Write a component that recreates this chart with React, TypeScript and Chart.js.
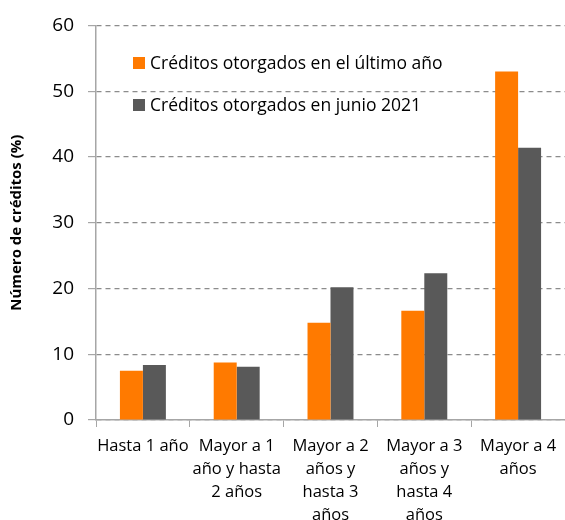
import React, { useEffect, useRef } from "react";
import { Chart, registerables } from "chart.js";

Chart.register(...registerables);

const categories: string[][] = [
  ["Hasta 1 año"],
  ["Mayor a 1", "año y hasta", "2 años"],
  ["Mayor a 2", "años y", "hasta 3", "años"],
  ["Mayor a 3", "años y", "hasta 4", "años"],
  ["Mayor a 4", "años"],
];
const seriesNames = ["Créditos otorgados en el último año", "Créditos otorgados en junio 2021"];
const ultimoAnio = [7.5, 8.75, 14.8, 16.6, 53.0];
const junio2021 = [8.35, 8.1, 20.2, 22.3, 41.4];
const yTicks = [0, 10, 20, 30, 40, 50, 60];

const FONT = "'Open Sans', sans-serif";

const legendPlugin = {
  id: "insideLegend",
  afterDraw(chart: any) {
    const ctx = chart.ctx;
    ctx.save();
    ctx.font = `17.5px ${FONT}`;
    ctx.textBaseline = "middle";
    ctx.textAlign = "left";
    chart.data.datasets.forEach((ds: any, i: number) => {
      const cy = 63 + i * 42;
      ctx.fillStyle = ds.backgroundColor;
      ctx.fillRect(133, cy - 6, 12, 12);
      ctx.fillStyle = "#000";
      ctx.fillText(ds.label, 150, cy + 1);
    });
    ctx.restore();
  },
};

export default function App() {
  const ref = useRef<HTMLCanvasElement>(null);
  useEffect(() => {
    const chart = new Chart(ref.current!, {
      type: "bar",
      data: {
        labels: categories,
        datasets: [
          { label: seriesNames[0], data: ultimoAnio, backgroundColor: "#FF7A00", borderWidth: 0 },
          { label: seriesNames[1], data: junio2021, backgroundColor: "#595959", borderWidth: 0 },
        ],
      },
      options: {
        animation: false,
        responsive: false,
        maintainAspectRatio: false,
        layout: { padding: 0 },
        plugins: { legend: { display: false }, tooltip: { enabled: false } },
        datasets: { bar: { categoryPercentage: 0.49, barPercentage: 1 } },
        scales: {
          x: {
            grid: { drawOnChartArea: false, drawTicks: true, tickLength: 7, color: "#A6A6A6", tickColor: "#A6A6A6" },
            border: { color: "#A6A6A6", width: 1.5 },
            ticks: {
              color: "#000",
              font: { family: FONT, size: 16.5, lineHeight: 23 / 16.5 },
              autoSkip: false,
              maxRotation: 0,
              padding: 8,
            },
            afterFit: (s: any) => { s.height = 100; },
          },
          y: {
            min: 0,
            max: 60,
            afterBuildTicks: (s: any) => { s.ticks = yTicks.map((v) => ({ value: v })); },
            grid: { color: "#8C8C8C", tickColor: "#A6A6A6", tickLength: 8, lineWidth: 1.2 },
            border: { color: "#A6A6A6", width: 1.5, dash: [5, 4] },
            ticks: { color: "#000", font: { family: FONT, size: 19 }, padding: 14 },
            title: {
              display: true,
              text: "Número de créditos (%)",
              color: "#000",
              font: { family: FONT, size: 15, weight: "bold" },
              padding: { top: 8, bottom: 0 },
            },
            afterFit: (s: any) => { s.width = 96; },
          },
        },
      },
      plugins: [legendPlugin],
    });
    return () => chart.destroy();
  }, []);
  return (
    <div style={{ position: "fixed", left: 0, top: 0, width: 565, height: 520, overflow: "hidden", background: "#fff" }}>
      <canvas ref={ref} width={565} height={520} style={{ display: "block" }} />
    </div>
  );
}
